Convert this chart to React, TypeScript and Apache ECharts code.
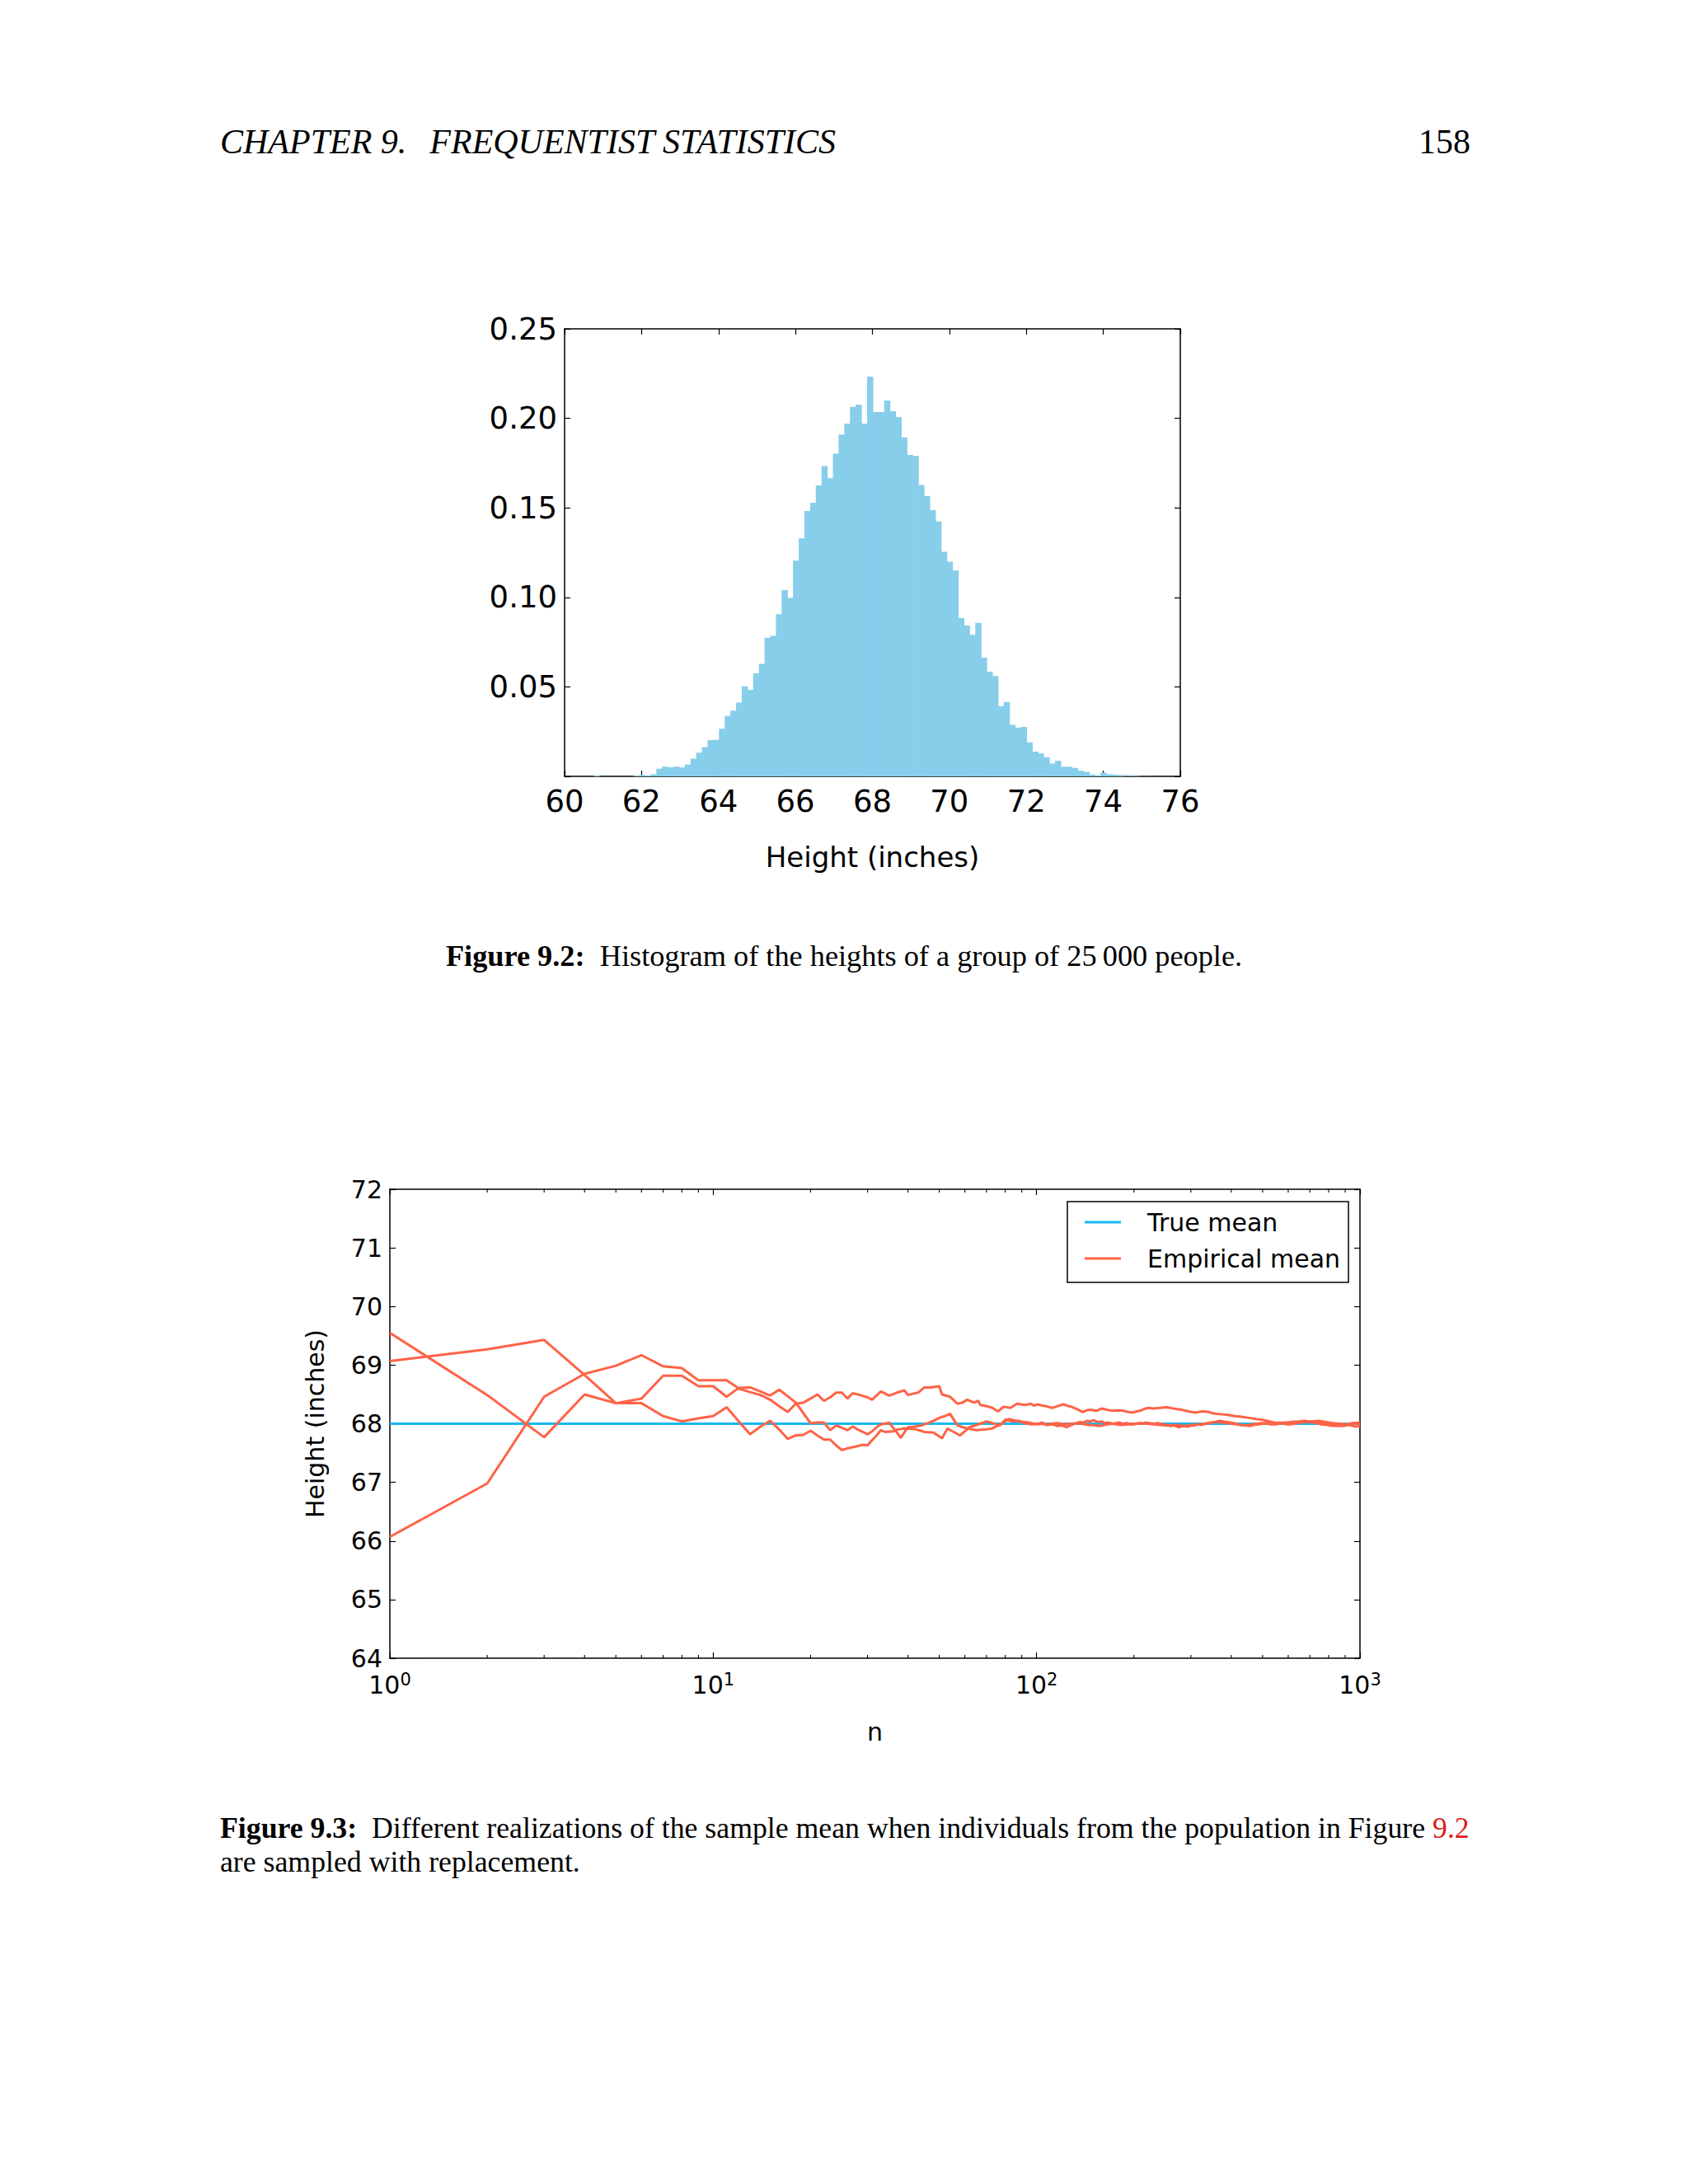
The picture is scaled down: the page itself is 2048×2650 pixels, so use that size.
import React, { useRef, useEffect } from 'react';
import * as echarts from 'echarts';

// histogram: 100 bins, left edge of the first bin and bin width (inches)
const histStart = 60.756;
const histBinWidth = 0.148;
const histHeights = [
  0.0006, 0, 0, 0, 0, 0, 0, 0.0004, 0.0008, 0.0004, 0.0012,
  0.0043, 0.0054, 0.005, 0.0054, 0.005, 0.0066, 0.0099, 0.0132, 0.0163, 0.0202,
  0.0204, 0.0266, 0.0338, 0.0367, 0.0412, 0.0503, 0.0484, 0.0575, 0.0628, 0.0775,
  0.0785, 0.0906, 0.104, 0.0997, 0.1205, 0.1329, 0.1483, 0.1529, 0.1625, 0.1733,
  0.1665, 0.1803, 0.191, 0.197, 0.2064, 0.2077,
  0.197, 0.2233, 0.2035, 0.2035, 0.2099, 0.204, 0.2007, 0.1893, 0.1796, 0.179,
  0.1628, 0.1566, 0.1487, 0.1424,
  0.1255, 0.1199, 0.115, 0.0884, 0.0843, 0.0791, 0.0857, 0.0663, 0.0585, 0.056,
  0.0393, 0.0416, 0.0288, 0.0272, 0.0276, 0.019, 0.0138, 0.0128, 0.0107, 0.0072,
  0.0087, 0.0054, 0.0054, 0.0047, 0.0031, 0.0025, 0.001, 0.0004, 0.0021, 0.0012,
  0.001, 0.0008, 0.0002,
  0.0003, 0.0002, 0, 0.0001, 0, 0,
];

const trueMean = 68;
const nLimits = [1, 1000];

// three realisations of the running sample mean, [n, mean]
const sampleMeanA = [
  [1, 69.55], [2, 68.49], [3, 67.77], [4, 68.5], [5, 68.35], [6, 68.35], [7, 68.13], [8, 68.04],
  [9, 68.09], [10, 68.13], [11, 68.28], [12, 68.04], [13, 67.82], [14, 67.95], [15, 68.05],
  [16, 67.9], [17, 67.74], [18, 67.8], [19, 67.81], [20, 67.88], [21, 67.8], [22, 67.73],
  [23, 67.73], [24, 67.63], [25, 67.55], [26, 67.58], [27, 67.6], [28, 67.62], [29, 67.64],
  [30, 67.63], [31, 67.72], [32, 67.8], [33, 67.89], [34, 67.86], [36, 67.87], [37, 67.9],
  [39, 67.92], [42, 67.91], [45, 67.86], [48, 67.85], [51, 67.75], [53, 67.92], [55, 67.87],
  [58, 67.8], [62, 67.94], [66, 67.99], [70, 68.04], [74, 68.0], [77, 67.97], [80, 68.07],
  [84, 68.04], [88, 68.05], [92, 68.01], [96, 67.99], [101, 68.0], [104, 68.02], [108, 67.98],
  [112, 67.99], [116, 67.96], [120, 67.97], [124, 67.94], [127, 67.97], [130, 67.99],
  [133, 68.01], [136, 68.03], [140, 68.02], [143, 68.05], [147, 68.04], [150, 68.06],
  [153, 68.04], [156, 68.03], [159, 68.04], [162, 68.01], [167, 68.02], [172, 68.0],
  [176, 68.01], [180, 68.02], [185, 68.0], [190, 68.01], [195, 67.99], [200, 67.99],
  [205, 68.0], [209, 68.01], [213, 68.0], [217, 68.02], [223, 68.01], [230, 68.0],
  [237, 68.01], [245, 67.99], [252, 67.98], [260, 67.96], [267, 67.97], [275, 67.94],
  [284, 67.96], [294, 67.95], [300, 67.97], [308, 67.97], [315, 67.99], [322, 67.98],
  [333, 68.0], [345, 68.02], [356, 68.03], [368, 68.05], [378, 68.04], [390, 68.03],
  [398, 68.02], [407, 68.01], [418, 67.99], [430, 67.98], [443, 67.97], [457, 67.96],
  [470, 67.98], [485, 67.99], [500, 68.0], [515, 68.01], [530, 67.99], [545, 68.0],
  [560, 68.02], [577, 68.01], [593, 67.99], [610, 67.99], [625, 68.0], [640, 68.01],
  [655, 68.02], [670, 68.03], [688, 68.02], [705, 68.04], [725, 68.03], [745, 68.02],
  [768, 68.03], [790, 68.01], [815, 67.99], [840, 67.98], [865, 67.97], [890, 67.96],
  [915, 67.98], [940, 67.97], [970, 67.95], [1000, 67.96],
];

const sampleMeanB = [
  [1, 69.07], [2, 69.27], [3, 69.43], [4, 68.83], [5, 68.35], [6, 68.43], [7, 68.82], [8, 68.82],
  [9, 68.64], [10, 68.64], [11, 68.46], [12, 68.61], [13, 68.62], [14, 68.55], [15, 68.48],
  [16, 68.58], [17, 68.47], [18, 68.36], [19, 68.18], [20, 68.01], [21, 68.02], [22, 68.02],
  [23, 67.89], [24, 67.97], [25, 67.93], [26, 67.89], [27, 67.95], [28, 67.9], [29, 67.86],
  [30, 67.82], [31, 67.87], [32, 67.94], [33, 67.99], [34, 68.0], [35, 68.02], [36, 67.93],
  [37, 67.85], [38, 67.76], [39, 67.85], [40, 67.94], [42, 67.95], [44, 67.97], [46, 68.01],
  [48, 68.05], [50, 68.1], [52, 68.13], [54, 68.17], [55, 68.1], [57, 67.97], [60, 67.93],
  [65, 67.89], [69, 67.9], [73, 67.92], [78, 68.0], [82, 68.08], [85, 68.06], [88, 68.04],
  [95, 68.02], [98, 68.0], [101, 67.99], [104, 68.0], [107, 67.98], [111, 68.0], [116, 68.01],
  [122, 67.99], [128, 68.0], [134, 68.01], [141, 67.99], [145, 67.98], [150, 67.98],
  [155, 67.96], [160, 67.97], [166, 67.99], [172, 68.0], [182, 67.98], [193, 67.99],
  [200, 68.0], [209, 68.01], [219, 68.0], [230, 67.99], [242, 67.98], [254, 67.97],
  [270, 67.98], [286, 67.96], [304, 67.98], [322, 67.99], [340, 68.01], [360, 68.03],
  [375, 68.02], [390, 68.01], [415, 67.99], [440, 67.97], [467, 67.99], [494, 68.01],
  [520, 68.0], [545, 67.99], [580, 68.01], [613, 68.03], [645, 68.04], [676, 68.05],
  [718, 68.02], [760, 67.99], [808, 67.97], [856, 67.96], [910, 67.98], [962, 68.01],
  [1000, 68.02],
];

const sampleMeanC = [
  [1, 66.07], [2, 66.98], [3, 68.46], [4, 68.85], [5, 68.99], [6, 69.17], [7, 68.98], [8, 68.95],
  [9, 68.74], [10, 68.74], [11, 68.74], [12, 68.6], [13, 68.54], [14, 68.49], [15, 68.41],
  [16, 68.3], [17, 68.2], [18, 68.34], [19, 68.36], [20, 68.43], [21, 68.5], [22, 68.39],
  [23, 68.45], [24, 68.53], [25, 68.53], [26, 68.43], [27, 68.52], [28, 68.5], [30, 68.45],
  [31, 68.41], [33, 68.55], [35, 68.48], [37, 68.53], [39, 68.57], [40, 68.49], [43, 68.53],
  [45, 68.62], [47, 68.62], [50, 68.64], [51, 68.5], [54, 68.46], [57, 68.34], [59, 68.36],
  [61, 68.41], [64, 68.36], [66, 68.39], [67, 68.32], [70, 68.3], [73, 68.27], [76, 68.21],
  [79, 68.29], [83, 68.27], [87, 68.34], [92, 68.32], [96, 68.34], [98, 68.31], [101, 68.33],
  [104, 68.31], [107, 68.3], [110, 68.28], [112, 68.27], [116, 68.3], [121, 68.33],
  [124, 68.31], [128, 68.29], [133, 68.25], [139, 68.2], [143, 68.23], [147, 68.24],
  [153, 68.22], [159, 68.26], [165, 68.24], [172, 68.22], [179, 68.23], [186, 68.22],
  [192, 68.2], [198, 68.19], [204, 68.21], [209, 68.22], [215, 68.25], [221, 68.27],
  [230, 68.26], [241, 68.27], [252, 68.28], [265, 68.26], [272, 68.25], [280, 68.24],
  [295, 68.21], [309, 68.19], [325, 68.21], [341, 68.2], [350, 68.18], [360, 68.17],
  [375, 68.16], [390, 68.15], [410, 68.13], [430, 68.12], [453, 68.1], [477, 68.08],
  [495, 68.07], [515, 68.05], [535, 68.03], [556, 68.01], [585, 68.02], [613, 68.01],
  [645, 68.02], [676, 68.03], [710, 68.04], [746, 68.05], [785, 68.03], [822, 68.01],
  [865, 68.0], [907, 67.99], [950, 68.01], [1000, 68.0],
];

const minorTicksN = [
  2, 3, 4, 5, 6, 7, 8, 9,
  20, 30, 40, 50, 60, 70, 80, 90,
  200, 300, 400, 500, 600, 700, 800, 900,
];

const SANS = 'DejaVu Sans';
const SERIF = 'Liberation Serif';
const BLACK = '#000';

const axisLine = { show: true, onZero: false, lineStyle: { color: BLACK, width: 1.5 } };
const axisTick = { show: true, inside: true, length: 7, lineStyle: { color: BLACK, width: 1.2 } };

const App = () => {
  const chartRef = useRef(null);

  useEffect(() => {
    const chart = echarts.init(chartRef.current, null, { renderer: 'svg' });

    const histData = histHeights.map((h, i) => [
      histStart + i * histBinWidth,
      histStart + (i + 1) * histBinWidth,
      h,
    ]);

    const option = {
      animation: false,
      backgroundColor: '#fff',
      grid: [
        { left: 685, top: 399, width: 747, height: 543, containLabel: false },
        { left: 473, top: 1443, width: 1177, height: 569, containLabel: false },
      ],
      xAxis: [
        {
          gridIndex: 0, type: 'value', position: 'bottom', min: 60, max: 76, interval: 2,
          axisLine, axisTick, splitLine: { show: false },
          axisLabel: { color: BLACK, fontFamily: SANS, fontSize: 37, margin: 12 },
          name: 'Height (inches)', nameLocation: 'middle', nameGap: 81,
          nameTextStyle: { color: BLACK, fontFamily: SANS, fontSize: 34 },
        },
        {
          gridIndex: 0, type: 'value', position: 'top', min: 60, max: 76, interval: 2,
          axisLine, axisTick, splitLine: { show: false }, axisLabel: { show: false },
        },
        {
          gridIndex: 1, type: 'log', logBase: 10, position: 'bottom', min: nLimits[0], max: nLimits[1],
          axisLine, axisTick, splitLine: { show: false }, minorTick: { show: false },
          axisLabel: {
            color: BLACK, fontFamily: SANS, fontSize: 30, margin: 15,
            formatter: (v) => '10{s|' + Math.round(Math.log10(v)) + '}',
            rich: { s: { fontFamily: SANS, fontSize: 21, color: BLACK, padding: [0, 0, 14, 0] } },
          },
          name: 'n', nameLocation: 'middle', nameGap: 74,
          nameTextStyle: { color: BLACK, fontFamily: SANS, fontSize: 30 },
        },
        {
          gridIndex: 1, type: 'log', logBase: 10, position: 'top', min: nLimits[0], max: nLimits[1],
          axisLine, axisTick, splitLine: { show: false }, axisLabel: { show: false },
        },
      ],
      yAxis: [
        {
          gridIndex: 0, type: 'value', position: 'left', min: 0, max: 0.25, interval: 0.05,
          axisLine, axisTick, splitLine: { show: false },
          axisLabel: {
            color: BLACK, fontFamily: SANS, fontSize: 37, margin: 9,
            formatter: (v) => (v === 0 ? '' : v.toFixed(2)),
          },
        },
        {
          gridIndex: 0, type: 'value', position: 'right', min: 0, max: 0.25, interval: 0.05,
          axisLine, axisTick, splitLine: { show: false }, axisLabel: { show: false },
        },
        {
          gridIndex: 1, type: 'value', position: 'left', min: 64, max: 72, interval: 1,
          axisLine, axisTick, splitLine: { show: false },
          axisLabel: { color: BLACK, fontFamily: SANS, fontSize: 30, margin: 9 },
          name: 'Height (inches)', nameLocation: 'middle', nameRotate: 90, nameGap: 76,
          nameTextStyle: { color: BLACK, fontFamily: SANS, fontSize: 30 },
        },
        {
          gridIndex: 1, type: 'value', position: 'right', min: 64, max: 72, interval: 1,
          axisLine, axisTick, splitLine: { show: false }, axisLabel: { show: false },
        },
      ],
      legend: {
        data: ['True mean', 'Empirical mean'],
        orient: 'vertical',
        left: 1295,
        top: 1458,
        icon: 'rect',
        itemWidth: 44,
        itemHeight: 3,
        itemGap: 14,
        padding: [10, 10, 14, 21],
        borderColor: BLACK,
        borderWidth: 1.5,
        borderRadius: 0,
        backgroundColor: '#fff',
        textStyle: { color: BLACK, fontFamily: SANS, fontSize: 30, padding: [0, 0, 0, 27] },
      },
      series: [
        {
          type: 'custom',
          name: 'heights',
          xAxisIndex: 0,
          yAxisIndex: 0,
          clip: true,
          encode: { x: [0, 1], y: 2 },
          data: histData,
          renderItem: (params, api) => {
            const top = api.coord([api.value(0), api.value(2)]);
            const bottom = api.coord([api.value(1), 0]);
            return {
              type: 'rect',
              shape: { x: top[0], y: top[1], width: bottom[0] - top[0] + 0.6, height: bottom[1] - top[1] },
              style: { fill: '#87CEEB' },
            };
          },
        },
        {
          type: 'custom',
          name: 'minor ticks',
          xAxisIndex: 2,
          yAxisIndex: 2,
          silent: true,
          data: minorTicksN,
          encode: { x: 0 },
          renderItem: (params, api) => {
            const n = api.value(0);
            const b = api.coord([n, 64]);
            const t = api.coord([n, 72]);
            const s = { stroke: BLACK, lineWidth: 1.1 };
            return {
              type: 'group',
              children: [
                { type: 'line', shape: { x1: b[0], y1: b[1], x2: b[0], y2: b[1] - 4 }, style: s },
                { type: 'line', shape: { x1: t[0], y1: t[1], x2: t[0], y2: t[1] + 4 }, style: s },
              ],
            };
          },
        },
        {
          type: 'line',
          name: 'True mean',
          xAxisIndex: 2,
          yAxisIndex: 2,
          data: [[nLimits[0], trueMean], [nLimits[1], trueMean]],
          symbol: 'none',
          z: 2,
          itemStyle: { color: '#1ab8ee' },
          lineStyle: { color: '#1ab8ee', width: 3 },
        },
        ...[sampleMeanA, sampleMeanB, sampleMeanC].map((d) => ({
          type: 'line',
          name: 'Empirical mean',
          xAxisIndex: 2,
          yAxisIndex: 2,
          data: d,
          symbol: 'none',
          z: 3,
          itemStyle: { color: '#FF6347' },
          lineStyle: { color: '#FF6347', width: 3 },
        })),
      ],
      graphic: [
        {
          type: 'text', x: 267, y: 172,
          style: {
            text: 'CHAPTER 9.\u2002\u2006FREQUENTIST STATISTICS', fill: BLACK,
            fontFamily: SERIF, fontStyle: 'italic', fontSize: 42, verticalAlign: 'middle',
          },
        },
        {
          type: 'text', x: 1784, y: 172,
          style: { text: '158', fill: BLACK, fontFamily: SERIF, fontSize: 42, align: 'right', verticalAlign: 'middle' },
        },
        {
          type: 'text', x: 1024, y: 1160,
          style: {
            text: '{b|Figure 9.2:}\u2002Histogram of the heights of a group of 25\u2009000 people.',
            fill: BLACK, fontFamily: SERIF, fontSize: 36.3, align: 'center', verticalAlign: 'middle',
            rich: { b: { fontFamily: SERIF, fontSize: 36.3, fontWeight: 'bold', fill: BLACK } },
          },
        },
        {
          type: 'text', x: 267, y: 2218,
          style: {
            text: '{b|Figure 9.3:}\u2002Different realizations of the sample mean when individuals from the population in Figure {r|9.2}',
            fill: BLACK, fontFamily: SERIF, fontSize: 35.75, verticalAlign: 'middle',
            rich: {
              b: { fontFamily: SERIF, fontSize: 35.75, fontWeight: 'bold', fill: BLACK },
              r: { fontFamily: SERIF, fontSize: 35.75, fill: '#dd1c1c' },
            },
          },
        },
        {
          type: 'text', x: 267, y: 2259,
          style: { text: 'are sampled with replacement.', fill: BLACK, fontFamily: SERIF, fontSize: 35.75, verticalAlign: 'middle' },
        },
      ],
    };

    chart.setOption(option);

    return () => {
      chart.dispose();
    };
  }, []);

  return (
    <div
      ref={chartRef}
      style={{ position: 'absolute', left: 0, top: 0, width: '2048px', height: '2650px' }}
    />
  );
};

export default App;
